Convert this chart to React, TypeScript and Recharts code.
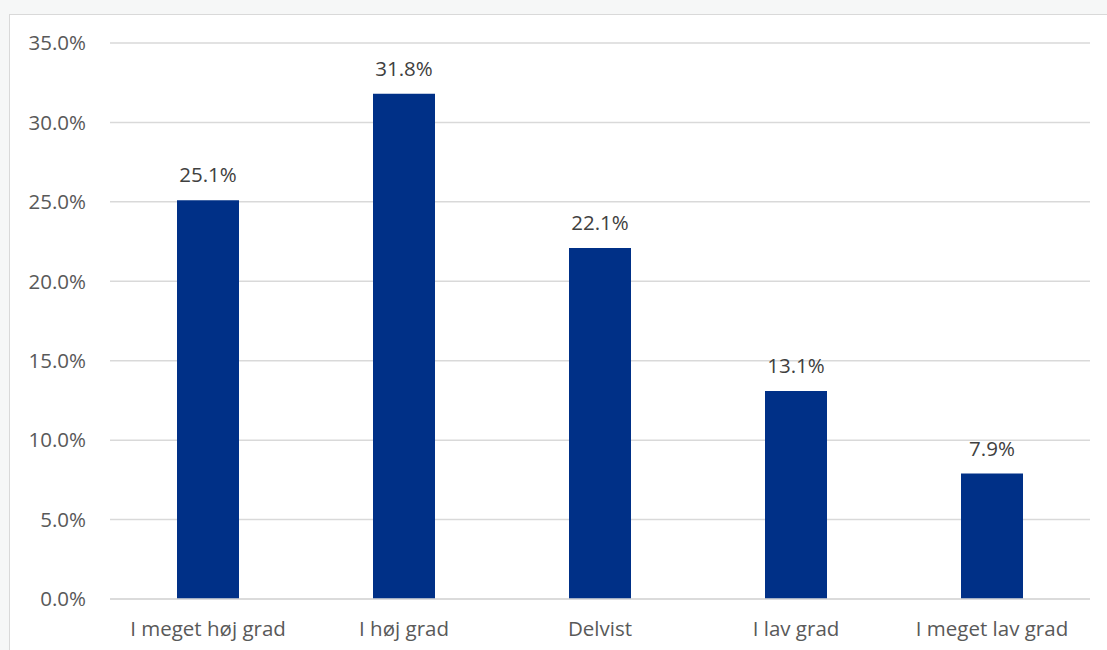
import { BarChart, Bar, XAxis, YAxis, CartesianGrid, LabelList } from "recharts"

const categories = [
  "I meget høj grad",
  "I høj grad",
  "Delvist",
  "I lav grad",
  "I meget lav grad",
]
const shares = [25.1, 31.8, 22.1, 13.1, 7.9]
const yTicks = [0, 5, 10, 15, 20, 25, 30, 35]

const data = categories.map((name, i) => ({ name, share: shares[i] }))

const fmt = (v: number) => `${v.toFixed(1)}%`
const font = "'Open Sans', sans-serif"

export default function App() {
  return (
    <div
      style={{
        position: "fixed",
        left: 0,
        top: 0,
        width: 1107,
        height: 650,
        background: "#f6f7f7",
        overflow: "hidden",
        fontFamily: font,
      }}
    >
      <div
        style={{
          position: "absolute",
          left: 9,
          top: 14,
          width: 1200,
          height: 700,
          background: "#fff",
          borderLeft: "1.5px solid #d9d9d9",
          borderTop: "1.5px solid #d9d9d9",
        }}
      />
      <div style={{ position: "absolute", left: 0, top: 0 }}>
        <BarChart
          width={1107}
          height={650}
          data={data}
          margin={{ top: 43, right: 17, bottom: 0, left: 0 }}
          barSize={62}
        >
          <CartesianGrid vertical={false} stroke="#d9d9d9" strokeWidth={1.5} />
          <XAxis
            dataKey="name"
            height={51}
            tickLine={false}
            axisLine={{ stroke: "#d9d9d9", strokeWidth: 1.5 }}
            tickMargin={16}
            interval={0}
            tick={{ fill: "#595959", fontSize: 20.5, fontFamily: font }}
          />
          <YAxis
            width={110}
            domain={[0, 35]}
            ticks={yTicks}
            tickFormatter={fmt}
            tickLine={false}
            axisLine={false}
            tickMargin={18}
            tick={{ fill: "#595959", fontSize: 20.5, fontFamily: font }}
          />
          <Bar dataKey="share" fill="#003087" isAnimationActive={false}>
            <LabelList
              dataKey="share"
              position="top"
              offset={18}
              formatter={(v: any) => fmt(Number(v))}
              style={{ fill: "#404040", fontSize: 20.5, fontFamily: font }}
            />
          </Bar>
        </BarChart>
      </div>
    </div>
  )
}
